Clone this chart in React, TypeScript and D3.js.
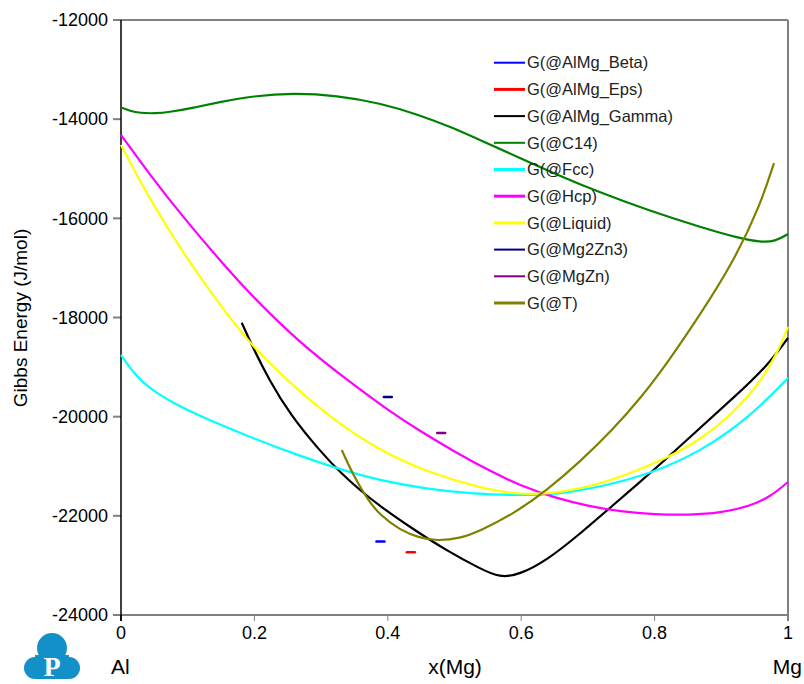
import React from "react";
import * as d3 from "d3";

type P = [number, number];

const C14: P[] = [[0,-13765],[0.0135,-13835],[0.0285,-13876],[0.051,-13886],[0.0735,-13855],[0.111,-13765],[0.148,-13654],[0.198,-13533],[0.258,-13472],[0.324,-13523],[0.388,-13674],[0.448,-13916],[0.498,-14178],[0.538,-14420],[0.598,-14783],[0.658,-15146],[0.718,-15479],[0.793,-15852],[0.868,-16175],[0.928,-16407],[0.958,-16477],[0.981,-16467],[1,-16316]];
const FCC: P[] = [[0,-18756],[0.021,-19160],[0.0435,-19442],[0.081,-19745],[0.118,-19987],[0.193,-20410],[0.268,-20793],[0.331,-21076],[0.388,-21287],[0.459,-21459],[0.523,-21550],[0.598,-21590],[0.658,-21560],[0.718,-21419],[0.793,-21156],[0.868,-20713],[0.943,-20007],[1,-19220]];
const HCP: P[] = [[0,-14319],[0.0435,-15126],[0.093,-15973],[0.144,-16780],[0.193,-17526],[0.268,-18514],[0.343,-19301],[0.4,-19866],[0.448,-20289],[0.501,-20713],[0.553,-21096],[0.6,-21398],[0.651,-21640],[0.703,-21812],[0.748,-21913],[0.8,-21973],[0.853,-21983],[0.898,-21943],[0.943,-21802],[0.973,-21620],[1,-21318]];
const LIQUID: P[] = [[0,-14521],[0.0435,-15630],[0.093,-16699],[0.144,-17667],[0.193,-18534],[0.253,-19321],[0.313,-20007],[0.388,-20692],[0.463,-21136],[0.538,-21439],[0.598,-21580],[0.658,-21539],[0.718,-21358],[0.768,-21116],[0.819,-20834],[0.868,-20471],[0.918,-19926],[0.958,-19321],[0.984,-18716],[1,-18192]];
const GAMMA: P[] = [[0.181,-18105],[0.198,-18615],[0.223,-19281],[0.253,-19946],[0.298,-20692],[0.331,-21156],[0.358,-21479],[0.388,-21802],[0.433,-22225],[0.489,-22709],[0.538,-23062],[0.568,-23250],[0.598,-23183],[0.639,-22891],[0.688,-22366],[0.738,-21781],[0.778,-21318],[0.819,-20834],[0.868,-20229],[0.918,-19624],[0.969,-18978],[1,-18413]];
const T: P[] = [[0.331,-20672],[0.348,-21176],[0.369,-21660],[0.388,-21983],[0.418,-22286],[0.448,-22447],[0.474,-22505],[0.508,-22457],[0.538,-22306],[0.588,-21963],[0.639,-21479],[0.688,-20914],[0.738,-20249],[0.778,-19644],[0.819,-18918],[0.868,-17950],[0.918,-16881],[0.958,-15751],[0.979,-14884]];

const BETA: P[] = [[0.389,-22520]];
const EPS: P[] = [[0.4345,-22736]];
const MG2ZN3: P[] = [[0.4,-19603]];
const MGZN: P[] = [[0.48,-20329]];

const LEGEND = ["G(@AlMg_Beta)","G(@AlMg_Eps)","G(@AlMg_Gamma)","G(@C14)","G(@Fcc)","G(@Hcp)","G(@Liquid)","G(@Mg2Zn3)","G(@MgZn)","G(@T)"];
const COLORS = ["#0000ff","#ff0000","#000000","#008000","#00ffff","#ff00ff","#ffff00","#000080","#800080","#808000"];
const SERIES: (P[])[] = [BETA, EPS, GAMMA, C14, FCC, HCP, LIQUID, MG2ZN3, MGZN, T];

const X_TICKS = [0, 0.2, 0.4, 0.6, 0.8, 1];
const X_TICK_LABELS = ["0", "0.2", "0.4", "0.6", "0.8", "1"];
const Y_TICKS = [-24000, -22000, -20000, -18000, -16000, -14000, -12000];

export default function App() {
  const x = d3.scaleLinear().domain([0, 1]).range([121, 788]);
  const y = d3.scaleLinear().domain([-24000, -12000]).range([615, 20]);
  const line = d3.line<P>().x(d => x(d[0])).y(d => y(d[1])).curve(d3.curveBasis);
  const font = "'Liberation Sans', Arial, sans-serif";
  const legendX = 494, legendY0 = 62.7, legendDy = 26.7;
  const thick = [false, true, false, false, true, true, true, false, false, true];
  return (
    <svg width={804} height={684} style={{ position: "absolute", left: 0, top: 0, background: "#fff" }} fontFamily={font}>
      <line x1={113} x2={788} y1={20} y2={20} stroke="#808080" strokeWidth={2} />
      <line x1={788} x2={788} y1={20} y2={621} stroke="#808080" strokeWidth={2} />
      <line x1={113} x2={788} y1={615} y2={615} stroke="#808080" strokeWidth={2} />
      {Y_TICKS.map(t => (
        <g key={t}>
          <line x1={113} x2={121} y1={y(t)} y2={y(t)} stroke="#808080" strokeWidth={2} />
          <text x={108} y={y(t)} dy="0.35em" textAnchor="end" fontSize={18} fill="#000">{String(t)}</text>
        </g>
      ))}
      {X_TICKS.map((t, i) => (
        <g key={t}>
          <line x1={x(t)} x2={x(t)} y1={615} y2={621} stroke={i === 0 ? "#000" : "#808080"} strokeWidth={i === 0 ? 1.5 : 1} />
          <text x={x(t)} y={639} textAnchor="middle" fontSize={18} fill="#000">{X_TICK_LABELS[i]}</text>
        </g>
      ))}
      <line x1={121} x2={121} y1={20} y2={621} stroke="#000" strokeWidth={1.5} />
      <text transform="translate(27,318) rotate(-90)" textAnchor="middle" fontSize={19} fill="#000">Gibbs Energy (J/mol)</text>
      <text x={111} y={674} fontSize={21} fill="#000">Al</text>
      <text x={455} y={674} textAnchor="middle" fontSize={21} fill="#000">x(Mg)</text>
      <text x={802} y={674} textAnchor="end" fontSize={21} fill="#000">Mg</text>
      {SERIES.map((s, i) =>
        s.length > 1 ? (
          <path key={i} d={line(s) || ""} fill="none" stroke={COLORS[i]} strokeWidth={2.2} strokeLinejoin="round" />
        ) : (
          <line key={i} x1={x(s[0][0]) - 4} x2={x(s[0][0]) + 4} y1={y(s[0][1])} y2={y(s[0][1])} stroke={COLORS[i]} strokeWidth={2.5} strokeLinecap="round" />
        )
      )}
      {LEGEND.map((name, i) => (
        <g key={name}>
          <line x1={legendX} x2={legendX + 31} y1={legendY0 + i * legendDy} y2={legendY0 + i * legendDy} stroke={COLORS[i]} strokeWidth={thick[i] ? 3 : 2} />
          <text x={legendX + 33} y={legendY0 + i * legendDy} dy="0.35em" fontSize={16.5} fill="#222">{name}</text>
        </g>
      ))}
      <g fill="#1490c8">
        <circle cx={52} cy={648} r={15} />
        <circle cx={35} cy={668} r={11} />
        <circle cx={69} cy={668} r={11} />
        <rect x={35} y={655} width={34} height={24} />
      </g>
      <text x={52} y={676} textAnchor="middle" fontSize={28} fontWeight="bold" fontFamily="'Liberation Serif', serif" fill="#fff">P</text>
    </svg>
  );
}
